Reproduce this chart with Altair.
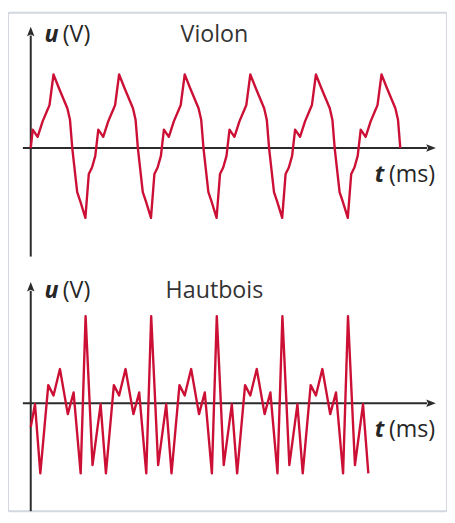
import altair as alt
import pandas as pd

# ---------------- data ----------------
violon_t = [0.00,
            0.30, 1.05, 1.81, 2.56, 2.86, 3.47, 4.32, 5.58, 5.98, 6.33, 7.08, 7.58, 8.33, 8.85, 9.34, 9.84,
            10.30, 11.05, 11.81, 12.56, 12.86, 13.47, 14.32, 15.58, 15.98, 16.33, 17.08, 17.58, 18.33, 18.85, 19.34, 19.84,
            20.30, 21.05, 21.81, 22.56, 22.86, 23.47, 24.32, 25.58, 25.98, 26.33, 27.08, 27.58, 28.33, 28.85, 29.34, 29.84,
            30.30, 31.05, 31.81, 32.56, 32.86, 33.47, 34.32, 35.58, 35.98, 36.33, 37.08, 37.58, 38.33, 38.85, 39.34, 39.84,
            40.30, 41.05, 41.81, 42.56, 42.86, 43.47, 44.32, 45.58, 45.98, 46.33, 47.08, 47.58, 48.33, 48.85, 49.34, 49.84,
            50.30, 51.05, 51.81, 52.56, 52.86, 53.47, 54.32, 55.58, 55.98, 56.33]
violon_u = [0.00,
            1.87, 1.13, 2.70, 3.87, 4.35, 7.45, 6.03, 4.03, 2.87, 0.00, -4.47, -5.47, -7.07, -2.63, -1.97, -0.80,
            1.87, 1.13, 2.70, 3.87, 4.35, 7.45, 6.03, 4.03, 2.87, 0.00, -4.47, -5.47, -7.07, -2.63, -1.97, -0.80,
            1.87, 1.13, 2.70, 3.87, 4.35, 7.45, 6.03, 4.03, 2.87, 0.00, -4.47, -5.47, -7.07, -2.63, -1.97, -0.80,
            1.87, 1.13, 2.70, 3.87, 4.35, 7.45, 6.03, 4.03, 2.87, 0.00, -4.47, -5.47, -7.07, -2.63, -1.97, -0.80,
            1.87, 1.13, 2.70, 3.87, 4.35, 7.45, 6.03, 4.03, 2.87, 0.00, -4.47, -5.47, -7.07, -2.63, -1.97, -0.80,
            1.87, 1.13, 2.70, 3.87, 4.35, 7.45, 6.03, 4.03, 2.87, 0.00]

hautbois_t = [0.00,
              0.65, 1.46, 2.67, 3.47, 4.45, 5.65, 6.53, 7.61, 8.36, 9.42,
              10.65, 11.46, 12.67, 13.47, 14.45, 15.65, 16.53, 17.61, 18.36, 19.42,
              20.65, 21.46, 22.67, 23.47, 24.45, 25.65, 26.53, 27.61, 28.36, 29.42,
              30.65, 31.46, 32.67, 33.47, 34.45, 35.65, 36.53, 37.61, 38.36, 39.42,
              40.65, 41.46, 42.67, 43.47, 44.45, 45.65, 46.53, 47.61, 48.36, 49.42,
              50.65, 51.46]
hautbois_u = [-2.40,
              -0.10, -7.10, 1.84, 0.80, 3.47, -1.10, 1.10, -7.10, 8.84, -6.26,
              -0.10, -7.10, 1.84, 0.80, 3.47, -1.10, 1.10, -7.10, 8.84, -6.26,
              -0.10, -7.10, 1.84, 0.80, 3.47, -1.10, 1.10, -7.10, 8.84, -6.26,
              -0.10, -7.10, 1.84, 0.80, 3.47, -1.10, 1.10, -7.10, 8.84, -6.26,
              -0.10, -7.10, 1.84, 0.80, 3.47, -1.10, 1.10, -7.10, 8.84, -6.26,
              -0.10, -7.10]

titles = ["Violon", "Hautbois"]
y_label = ["u", "(V)"]
x_label = ["t", "(ms)"]

# ---------------- styling / layout ----------------
RED = "#cc1035"
AX = "#2b2b2b"
TXT = "#262626"
FONT = "Open Sans"
FS = 23.5

W, H = 444, 507
PAD_TOP = 2
VIEW_H = H - PAD_TOP
X0_PX = 23            # pixel of t = 0 inside the view
PX_PER_T = 6.635
x_dom = [-X0_PX / PX_PER_T, (W - X0_PX) / PX_PER_T]
x_scale = alt.Scale(domain=x_dom, nice=False, zero=False)

UP = "M0,-1L0.75,0.95L0,0.6L-0.75,0.95Z"
RIGHT = "M1,0L-0.95,0.75L-0.6,0L-0.95,-0.75Z"


def panel(t, u, title, zero_px, y_bottom):
    ys = alt.Scale(domain=[-(VIEW_H - zero_px) / 10, zero_px / 10], nice=False, zero=False)
    X = lambda f: alt.X(f, type="quantitative", scale=x_scale, axis=None)
    Y = lambda f: alt.Y(f, type="quantitative", scale=ys, axis=None)

    wave = pd.DataFrame({"t": t, "u": u})
    line = alt.Chart(wave).mark_line(color=RED, strokeWidth=2.4, strokeJoin="round").encode(
        x=X("t"), y=Y("u"), order="t:Q")

    axes_df = pd.DataFrame({"x": [-1.2, 0.0], "x2": [60.4, 0.0],
                            "y": [0.0, y_bottom], "y2": [0.0, 11.4]})
    axes = alt.Chart(axes_df).mark_rule(color=AX, strokeWidth=2).encode(
        x=X("x"), x2="x2", y=Y("y"), y2="y2")

    arrows_df = pd.DataFrame({"x": [61.0, 0.0], "y": [0.0, 11.8], "shape": [RIGHT, UP]})
    arrows = alt.Chart(arrows_df).mark_point(filled=True, opacity=1, color=AX, size=100).encode(
        x=X("x"), y=Y("y"), shape=alt.Shape("shape:N", scale=None))

    bold_df = pd.DataFrame({"x": [2.11, 52.45], "y": [11.4, -2.75], "s": [y_label[0], x_label[0]]})
    bold = alt.Chart(bold_df).mark_text(font=FONT, fontSize=FS, fontWeight="bold", fontStyle="italic",
                                        align="left", baseline="middle", color=TXT).encode(
        x=X("x"), y=Y("y"), text="s:N")

    reg_df = pd.DataFrame({"x": [4.87, 54.6], "y": [11.4, -2.75], "s": [y_label[1], x_label[1]]})
    reg = alt.Chart(reg_df).mark_text(font=FONT, fontSize=FS, fontWeight=500, align="left",
                                      baseline="middle", color=TXT).encode(
        x=X("x"), y=Y("y"), text="s:N")

    tit_df = pd.DataFrame({"x": [28.0], "y": [11.4], "s": [title]})
    tit = alt.Chart(tit_df).mark_text(font=FONT, fontSize=FS, align="center", baseline="middle",
                                      color="#333333").encode(
        x=X("x"), y=Y("y"), text="s:N")

    return alt.layer(axes, arrows, line, bold, reg, tit)


violon = panel(violon_t, violon_u, titles[0], 137.0, -11.0)
hautbois = panel(hautbois_t, hautbois_u, titles[1], 395.7, -10.93)

chart = alt.layer(violon, hautbois).resolve_scale(y="independent").properties(
    width=W, height=H,
    autosize=alt.AutoSizeParams(type="fit", contains="padding"),
    padding={"left": 0, "right": 0, "top": PAD_TOP, "bottom": 0},
    background="white",
).configure_view(stroke="#d3d7df", strokeWidth=2, cornerRadius=2)

chart.save("out.html", embed_options={"renderer": "svg", "actions": False})
